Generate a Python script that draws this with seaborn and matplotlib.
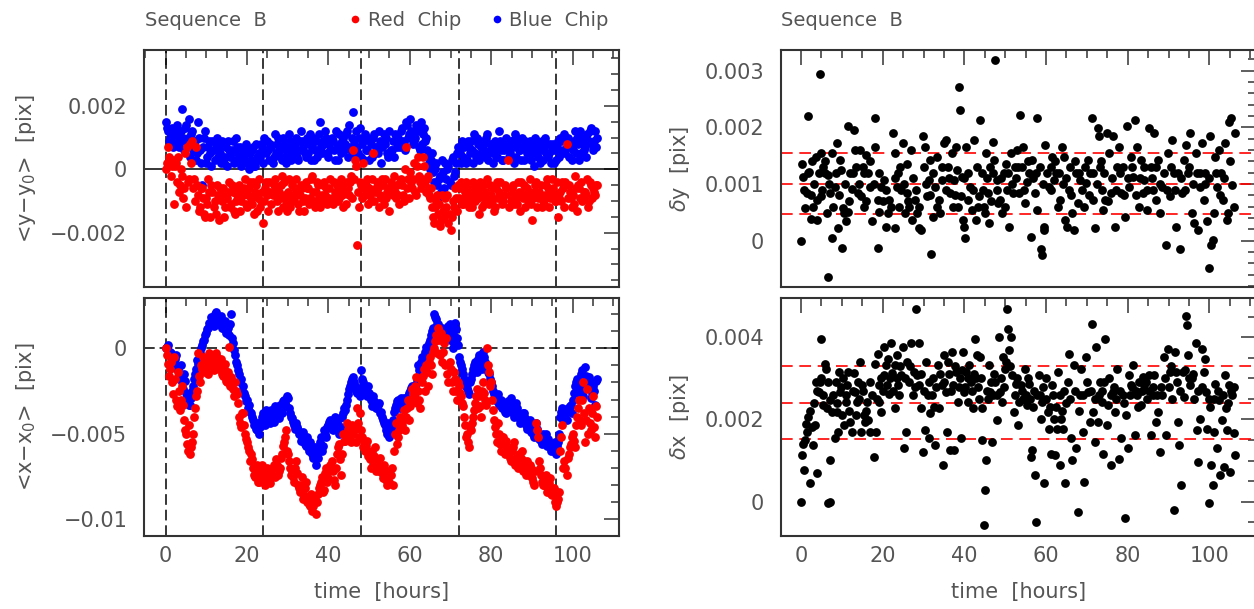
import numpy as np
import pandas as pd
import matplotlib
matplotlib.use("Agg")
import matplotlib.pyplot as plt
import seaborn as sns
from matplotlib.ticker import MultipleLocator, FuncFormatter
from matplotlib.lines import Line2D

sns.set_theme(style="white")
plt.rcParams["font.family"] = ["DejaVu Sans"]
plt.rcParams["mathtext.fontset"] = "dejavusans"

# ---------------- data (values in units of 1e-4 pix) ----------------
UNIT = 1e-4

# exposures on the full hour / half hour
hours_a = [
    0, 0.5, 1, 1.5, 2, 2.5, 3, 3.5, 4, 4.5, 5, 5.5, 6, 6.5, 7, 7.5, 8, 8.5, 9, 9.5,
    10, 10.5, 11, 11.5, 12, 12.5, 13, 13.5, 14, 14.5, 15, 15.5, 16, 16.5, 17, 17.5, 18, 18.5, 19, 19.5,
    20, 20.5, 21, 21.5, 22, 22.5, 23, 23.5, 24, 24.5, 25, 25.5, 26, 26.5, 27, 27.5, 28, 28.5, 29, 29.5,
    30, 30.5, 31, 31.5, 32, 32.5, 33, 33.5, 34, 34.5, 35, 35.5, 36, 36.5, 37, 37.5, 38, 38.5, 39, 39.5,
    40, 40.5, 41, 41.5, 42, 42.5, 43, 43.5, 44, 44.5, 45, 45.5, 46, 46.5, 47, 47.5, 48, 48.5, 49, 49.5,
    50, 50.5, 51, 51.5, 52, 52.5, 53, 53.5, 54, 54.5, 55, 55.5, 56, 56.5, 57, 57.5, 58, 58.5, 59, 59.5,
    60, 60.5, 61, 61.5, 62, 62.5, 63, 63.5, 64, 64.5, 65, 65.5, 66, 66.5, 67, 67.5, 68, 68.5, 69, 69.5,
    70, 70.5, 71, 71.5, 72, 72.5, 73, 73.5, 74, 74.5, 75, 75.5, 76, 76.5, 77, 77.5, 78, 78.5, 79, 79.5,
    80, 80.5, 81, 81.5, 82, 82.5, 83, 83.5, 84, 84.5, 85, 85.5, 86, 86.5, 87, 87.5, 88, 88.5, 89, 89.5,
    90, 90.5, 91, 91.5, 92, 92.5, 93, 93.5, 94, 94.5, 95, 95.5, 96, 96.5, 97, 97.5, 98, 98.5, 99, 99.5,
    100, 100.5, 101, 101.5, 102, 102.5, 103, 103.5, 104, 104.5, 105, 105.5, 106,
]
# exposures in between
hours_b = [
    0.25, 0.75, 1.25, 1.75, 2.25, 2.75, 3.25, 3.75, 4.25, 4.75, 5.25, 5.75, 6.25, 6.75, 7.25, 7.75, 8.25, 8.75, 9.25, 9.75,
    10.25, 10.75, 11.25, 11.75, 12.25, 12.75, 13.25, 13.75, 14.25, 14.75, 15.25, 15.75, 16.25, 16.75, 17.25, 17.75, 18.25, 18.75, 19.25, 19.75,
    20.25, 20.75, 21.25, 21.75, 22.25, 22.75, 23.25, 23.75, 24.25, 24.75, 25.25, 25.75, 26.25, 26.75, 27.25, 27.75, 28.25, 28.75, 29.25, 29.75,
    30.25, 30.75, 31.25, 31.75, 32.25, 32.75, 33.25, 33.75, 34.25, 34.75, 35.25, 35.75, 36.25, 36.75, 37.25, 37.75, 38.25, 38.75, 39.25, 39.75,
    40.25, 40.75, 41.25, 41.75, 42.25, 42.75, 43.25, 43.75, 44.25, 44.75, 45.25, 45.75, 46.25, 46.75, 47.25, 47.75, 48.25, 48.75, 49.25, 49.75,
    50.25, 50.75, 51.25, 51.75, 52.25, 52.75, 53.25, 53.75, 54.25, 54.75, 55.25, 55.75, 56.25, 56.75, 57.25, 57.75, 58.25, 58.75, 59.25, 59.75,
    60.25, 60.75, 61.25, 61.75, 62.25, 62.75, 63.25, 63.75, 64.25, 64.75, 65.25, 65.75, 66.25, 66.75, 67.25, 67.75, 68.25, 68.75, 69.25, 69.75,
    70.25, 70.75, 71.25, 71.75, 72.25, 72.75, 73.25, 73.75, 74.25, 74.75, 75.25, 75.75, 76.25, 76.75, 77.25, 77.75, 78.25, 78.75, 79.25, 79.75,
    80.25, 80.75, 81.25, 81.75, 82.25, 82.75, 83.25, 83.75, 84.25, 84.75, 85.25, 85.75, 86.25, 86.75, 87.25, 87.75, 88.25, 88.75, 89.25, 89.75,
    90.25, 90.75, 91.25, 91.75, 92.25, 92.75, 93.25, 93.75, 94.25, 94.75, 95.25, 95.75, 96.25, 96.75, 97.25, 97.75, 98.25, 98.75, 99.25, 99.75,
    100.25, 100.75, 101.25, 101.75, 102.25, 102.75, 103.25, 103.75, 104.25, 104.75, 105.25, 105.75,
]

red_dy_a = [
    0, 7, 3, 1, -11, 2, 4, -5, -2, -6, -12, -4, 8, 9, -3, 7, -8, -12, -6, -14,
    -9, -3, -15, -7, -10, -5, -16, -8, -6, -12, -9, -4, -11, -7, -14, -8, -5, -10, -8, -3,
    -12, -6, -9, -4, -7, -13, -3, -10, -17, -6, -8, -4, -11, -5, -6, -13, -9, -2, -4, -10,
    -7, -12, -5, -9, -3, -11, -8, -6, -13, -4, -6, -9, -2, -10, -7, -5, -12, -8, -4, -6,
    -9, -3, -11, -7, -5, -9, -3, -12, -7, -4, -8, -2, 6, 3, -24, -12, -5, 2, -8, -3,
    -6, -10, 5, -7, -4, -12, -9, -5, -3, -7, -13, -6, -2, -9, -8, -4, -5, -10, 7, -3,
    -1, -6, 2, -8, 4, -4, -3, 1, -7, -2, -9, -12, -17, -10, -14, -18, -8, -15, -12, -17,
    -19, -10, -6, -13, -9, -4, -11, -7, -6, -12, -8, -4, -10, -6, -14, -7, -5, -9, -3, -11,
    -8, -6, -12, -4, -7, -9, -10, -5, 3, -8, -6, -11, -9, -4, -13, -7, -5, -8, -10, -3,
    -16, -7, -4, -9, -8, -12, -11, -5, -6, -9, -3, -8, -10, -15, -7, -4, -12, 8, -5, -9,
    -8, -2, -13, -6, -4, -9, -7, -3, -10, -5, -6, -8, -5,
]
red_dy_b = [
    2, 4, -2, 3, 1, -4, -7, 0, -9, 5, 7, -3, 2, -6, -10, -5, -13, -6, -9, -15,
    -11, -7, -5, -12, -14, -8, -6, -10, -15, -9, -7, -12, -5, -13, -10, -6, -13, -7, -6, -11,
    -8, -4, -11, -14, -5, -9, -12, -7, -10, -4, -13, -7, -8, -3, -10, -7, -5, -12, -8, -13,
    -3, -8, -10, -6, -7, -13, -5, -10, -9, -6, -11, -3, -7, -12, -4, -9, -10, -5, -8, -11,
    -6, -9, -4, -8, -10, -6, -8, -5, -11, -6, -4, -9, -3, 1, -7, -4, -9, -6, -5, -11,
    -8, -3, -10, -6, -6, -8, -3, -11, -9, -6, -4, -8, -7, -5, -11, -3, -8, 0, -6, -9,
    -4, -3, -7, 1, -2, -6, 4, -5, -3, -8, -6, -15, -12, -8, -11, -16, -13, -9, -8, -14,
    -15, -12, -9, -5, -6, -11, -9, -4, -10, -7, -12, -5, -7, -9, -4, -12, -11, -7, -8, -5,
    -10, -13, -6, -9, -4, -11, -8, -6, -12, -10, -5, -8, -11, -7, -4, -9, -12, -6, -7, -11,
    -9, -5, -12, -7, -5, -10, -8, -3, -12, -7, -6, -10, -4, -9, -10, -6, -4, -9, -7, -12,
    -11, -6, -5, -9, -10, -7, -8, -12, -4, -9, -7, -5,
]

blue_dy_a = [
    15, 12, 10, 13, 8, 12, 11, 9, 19, 6, 14, 10, 4, 12, 8, 3, 15, 6, -5, 10,
    2, 7, 5, 9, 3, 10, 6, 2, 8, 4, 1, 6, 5, 9, 3, 7, 4, 1, 2, 5,
    6, 0, 3, 7, 1, 4, 5, 8, 2, 6, 9, 3, 7, 4, 5, 10, 6, 3, 8, 2,
    4, 9, 7, 5, 10, 3, 6, 9, 8, 4, 5, 11, 7, 3, 9, 6, 15, 5, 8, 10,
    4, 6, 9, 3, 7, 11, 5, 10, 8, 12, 14, 6, 18, 4, 7, 10, 4, 9, 11, 6,
    3, 8, 10, 5, 7, 12, 2, 9, 8, 5, 12, 6, 4, 9, 10, 7, 13, 8, 15, 10,
    16, 11, 9, 14, 12, 6, 8, 13, 10, 4, 0, 5, -4, 2, -9, -2, 3, -6, -3, 1,
    -5, 4, -1, 5, 6, 2, 4, 8, 3, 7, 9, 2, 5, 10, 3, 7, 8, 4, 11, 5,
    6, 2, 9, 4, 12, 6, 3, 8, 7, 5, 9, 2, 4, 8, 6, 10, 3, 7, 5, 9,
    8, 1, 6, 4, 2, 9, 7, 5, 4, 8, 6, 2, 3, 9, 10, 5, 11, 7, 4, 8,
    6, 12, 10, 3, 5, 8, 7, 11, 9, 13, 6, 12, 10,
]
blue_dy_b = [
    13, 9, 11, 7, 10, 14, 7, 12, 10, 13, 8, 16, 11, 6, 9, 5, 10, 2, 7, 12,
    4, 9, 1, 6, 8, 4, 5, 9, 2, 7, 9, 4, 6, 2, 10, 5, 7, 3, 4, 8,
    2, 5, 6, 1, 8, 3, 4, 7, 10, 5, 6, 8, 2, 11, 8, 6, 4, 10, 7, 5,
    11, 3, 6, 8, 4, 9, 12, 7, 5, 10, 8, 3, 10, 6, 4, 11, 7, 9, 12, 5,
    8, 10, 6, 12, 3, 8, 9, 6, 11, 4, 7, 10, 9, 12, 5, 13, 8, 3, 6, 10,
    9, 4, 11, 7, 5, 9, 7, 11, 10, 4, 6, 9, 11, 7, 8, 12, 9, 6, 14, 11,
    12, 8, 10, 13, 7, 15, 11, 9, 6, 2, 3, -1, 0, -5, -3, -7, -1, 2, 0, -4,
    3, -2, 2, 7, 5, 9, 7, 2, 9, 5, 6, 11, 4, 8, 9, 5, 6, 10, 3, 8,
    8, 5, 4, 7, 9, 3, 6, 10, 4, 9, 7, 11, 10, 6, 3, 8, 9, 5, 7, 3,
    5, 10, 9, 7, 6, 3, 10, 8, 5, 2, 8, 6, 7, 4, 9, 6, 5, 10, 7, 3,
    9, 5, 8, 12, 10, 6, 4, 9, 12, 8, 9, 7,
]

red_dx_a = [
    0, -9, -12, -20, -5, -30, -14, -36, -22, -42, -50, -60, -62, -55, -40, -28, -3, -20, -12, -8,
    -6, -15, -4, -10, -8, -5, -12, -6, -16, -9, -20, 1, -17, -24, -20, -27, -40, -46, -38, -50,
    -55, -60, -62, -70, -75, -68, -78, -72, -75, -80, -70, -76, -72, -68, -65, -74, -70, -62, -55, -48,
    -62, -70, -72, -78, -66, -80, -84, -75, -86, -78, -88, -92, -95, -90, -97, -85, -80, -75, -83, -70,
    -76, -68, -72, -80, -62, -56, -74, -50, -54, -44, -48, -55, -50, -46, -35, -52, -48, -58, -60, -54,
    -62, -70, -68, -58, -66, -72, -70, -76, -74, -80, -78, -70, -60, -44, -52, -40, -45, -36, -40, -30,
    -34, -24, -28, -17, -25, -35, -20, -12, -10, -22, -5, -15, 0, 8, 12, -4, -8, 3, 6, -20,
    -12, -25, -18, -30, -22, -28, -34, -45, -50, -58, -48, -40, -32, -24, -28, -40, -20, -30, 0, -14,
    -20, -36, -46, -55, -50, -60, -52, -62, -58, -64, -60, -55, -64, -70, -68, -60, -66, -74, -72, -68,
    -76, -80, -44, -52, -70, -78, -80, -74, -82, -76, -86, -82, -92, -88, -60, -45, -66, -74, -62, -56,
    -50, -58, -40, -30, -45, -20, -55, -24, -35, -48, -28, -52, -40,
]
red_dx_b = [
    -4, -16, -8, -27, -18, -34, -25, -30, -33, -48, -56, -45, -58, -50, -35, -25, -16, -10, -5, -14,
    -11, -3, -7, -13, -3, -11, -9, -15, -12, -19, -14, -22, -20, -28, -25, -32, -44, -38, -45, -53,
    -58, -66, -65, -74, -72, -78, -74, -68, -78, -72, -73, -79, -70, -75, -68, -72, -64, -57, -52, -60,
    -66, -74, -75, -70, -73, -82, -80, -88, -82, -90, -91, -85, -92, -88, -90, -82, -78, -84, -73, -78,
    -72, -66, -77, -70, -58, -65, -62, -54, -50, -47, -52, -45, -48, -55, -44, -38, -52, -55, -57, -63,
    -65, -60, -63, -72, -69, -64, -73, -68, -77, -72, -74, -80, -50, -56, -48, -44, -42, -48, -35, -42,
    -30, -27, -22, -32, -30, -18, -16, -25, -14, -8, -10, -2, 4, -3, 5, 9, -2, -10, -15, -8,
    -20, -14, -25, -20, -26, -32, -40, -52, -55, -46, -44, -36, -28, -35, -34, -25, -26, -33, -10, -22,
    -30, -42, -50, -44, -56, -52, -58, -54, -60, -66, -58, -68, -67, -62, -64, -72, -70, -66, -74, -70,
    -78, -72, -48, -66, -74, -80, -77, -84, -79, -85, -84, -90, -90, -84, -52, -70, -70, -64, -58, -52,
    -54, -45, -35, -42, -30, -38, -42, -50, -44, -38, -46, -34,
]

blue_dx_a = [
    0, 2, -2, -6, -8, -4, -12, -18, -20, -15, -26, -30, -33, -25, -18, -12, -9, -3, 2, 5,
    9, 12, 14, 17, 20, 17, 15, 19, 12, 16, 10, 8, 20, 3, -4, -10, -15, -18, -22, -28,
    -30, -33, -38, -42, -45, -48, -50, -43, -38, -45, -37, -41, -36, -43, -40, -35, -33, -38, -30, -34,
    -29, -38, -41, -45, -44, -48, -50, -52, -54, -57, -58, -55, -62, -60, -68, -64, -55, -60, -48, -52,
    -45, -42, -48, -40, -44, -50, -46, -38, -36, -30, -24, -20, -17, -22, -26, -25, -13, -20, -24, -28,
    -26, -30, -28, -33, -35, -32, -37, -42, -45, -50, -52, -46, -37, -33, -30, -35, -32, -29, -33, -28,
    -25, -22, -28, -21, -10, -15, -5, -8, 1, -3, 5, 10, 20, 17, 14, 10, 12, 7, 5, 13,
    10, 0, 15, 6, -5, -10, -15, -20, -23, -27, -18, -12, -8, -14, -4, -10, -2, -8, -12, -15,
    -20, -25, -28, -31, -33, -30, -35, -37, -31, -34, -36, -40, -32, -38, -44, -40, -38, -45, -46, -42,
    -48, -52, -44, -50, -52, -56, -55, -50, -53, -58, -58, -60, -62, -55, -40, -35, -38, -42, -36, -33,
    -30, -22, -18, -25, -15, -28, -11, -20, -17, -29, -22, -33, -18,
]
blue_dx_b = [
    1, -4, -3, -9, -6, -12, -16, -10, -24, -19, -28, -33, -29, -22, -15, -7, -6, 0, 4, 8,
    11, 15, 18, 13, 21, 14, 18, 12, 15, 9, 12, 14, 6, -1, -8, -13, -20, -25, -26, -31,
    -35, -37, -40, -45, -47, -44, -46, -40, -42, -36, -40, -44, -38, -34, -36, -41, -36, -31, -32, -28,
    -35, -40, -43, -47, -46, -50, -54, -49, -56, -52, -60, -57, -64, -58, -62, -58, -52, -57, -50, -46,
    -43, -47, -42, -45, -47, -41, -40, -35, -33, -27, -22, -18, -20, -25, -23, -28, -18, -22, -26, -22,
    -28, -34, -31, -35, -33, -38, -40, -44, -48, -44, -49, -42, -35, -31, -33, -29, -30, -35, -30, -26,
    -23, -27, -24, -18, -13, -8, -6, -2, -1, 3, 8, 12, 18, 14, 12, 8, 9, 11, 8, 14,
    4, 7, 11, 2, -8, -12, -18, -22, -25, -20, -15, -10, -11, -6, -7, -12, -5, -10, -14, -18,
    -22, -27, -30, -27, -32, -35, -33, -38, -33, -29, -38, -34, -35, -41, -42, -38, -41, -47, -44, -49,
    -50, -46, -47, -53, -54, -50, -52, -57, -56, -60, -59, -55, -57, -50, -37, -42, -40, -35, -34, -38,
    -26, -20, -21, -27, -13, -24, -16, -22, -20, -26, -25, -19,
]

# right-hand panels: individual exposures
dy_hours = [
    0, 0.3, 0.5, 1.0, 1.4, 1.7, 1.9, 2.4, 2.4, 2.9,
    3.6, 3.8, 4.0, 4.6, 4.8, 4.8, 5.3, 5.8, 6.3, 6.5,
    6.7, 7.2, 7.7, 7.7, 8.2, 8.7, 9.1, 9.6, 9.8, 10.1,
    10.4, 10.6, 11.1, 11.5, 11.5, 12.0, 12.5, 13.0, 13.3, 13.5,
    13.9, 14.4, 14.7, 15.4, 15.4, 15.9, 16.3, 16.8, 17.3, 18.1,
    18.1, 18.75, 18.75, 19.2, 19.7, 20.2, 20.7, 21.2, 21.6, 22.6,
    23.1, 23.1, 23.6, 23.8, 24.0, 24.5, 25.0, 25.5, 26.0, 26.0,
    26.4, 26.9, 27.1, 27.9, 28.4, 28.8, 29.3, 29.8, 30.0, 30.3,
    30.8, 31.25, 31.7, 31.9, 32.2, 32.7, 33.2, 33.7, 34.1, 34.6,
    35.1, 35.6, 36.1, 36.5, 37.0, 37.2, 37.5, 38.0, 38.3, 38.7,
    38.9, 39.2, 39.4, 39.6, 39.9, 40.2, 40.4, 40.9, 41.3, 41.8,
    42.3, 42.8, 43.1, 43.5, 43.75, 44.2, 44.7, 45.0, 45.2, 45.7,
    46.0, 46.3, 46.9, 47.3, 47.6, 47.9, 48.3, 48.8, 49.2, 49.8,
    50.2, 50.5, 51.0, 51.4, 51.9, 52.4, 52.9, 53.4, 53.7, 54.0,
    54.3, 54.8, 55.3, 55.8, 56.25, 56.5, 57.2, 57.7, 57.9, 58.7,
    59.1, 59.4, 59.6, 59.8, 60.6, 61.1, 61.5, 62.0, 62.5, 63.0,
    63.5, 63.9, 64.4, 64.7, 65.2, 65.6, 65.9, 66.3, 66.8, 67.3,
    67.8, 68.3, 69.2, 69.7, 70.2, 70.7, 71.2, 71.6, 72.1, 72.6,
    72.9, 73.1, 73.6, 74.0, 74.5, 75.0, 75.5, 76.0, 76.4, 76.9,
    77.4, 77.9, 78.4, 78.8, 79.3, 79.8, 80.3, 80.8, 81.25, 81.7,
    82.2, 82.7, 83.2, 83.7, 84.1, 84.6, 85.1, 85.6, 86.1, 86.5,
    87.0, 87.5, 88.0, 88.5, 89.4, 89.9, 90.4, 90.9, 91.3, 91.8,
    92.8, 93.3, 93.75, 94.2, 94.7, 95.2, 95.7, 96.2, 96.6, 97.1,
    97.6, 98.1, 98.6, 99.0, 99.5, 100.0, 100.2, 100.5, 100.8, 101.2,
    101.4, 101.9, 102.4, 102.9, 103.4, 103.8, 104.3, 104.6, 104.8, 105.3,
    105.6, 106.0, 106.25,
    0.8, 1.6, 2.6, 3.3, 4.3, 5.1, 5.9, 6.9, 7.9, 8.5,
    9.3, 10.8, 11.8, 12.8, 14.1, 15.1, 16.0, 17.0, 17.8, 19.0,
    20.0, 20.9, 22.0, 22.9, 24.2, 25.2, 26.2, 27.4, 28.1, 29.0,
    30.5, 31.5, 32.4, 33.4, 34.4, 35.4, 36.3, 37.7, 38.5, 40.0,
    41.0, 42.0, 43.3, 44.5, 45.5, 46.5, 47.1, 48.1, 49.0, 50.0,
    50.8, 51.7, 52.6, 53.2, 54.5, 55.5, 56.8, 57.5, 58.4, 59.3,
    60.2, 61.3, 62.2, 63.2, 64.1, 65.0, 66.1, 67.0, 68.0, 68.8,
    69.5, 70.5, 71.4, 72.4, 73.4, 74.3, 75.2, 76.2, 77.1, 78.1,
    79.0, 80.0, 81.0, 82.0, 82.9, 83.9, 84.8, 85.9, 86.8, 87.8,
    88.8, 89.6, 90.6, 91.6, 92.3, 93.1, 94.0, 94.9, 95.9, 96.9,
    97.8, 98.8, 99.8, 101.6, 102.6, 103.6, 105.0,
]
dy_values = [
    0, 13.6, 11.3, 5.7, 8.4, 22, 12.2, 8, 3.9, 6,
    14.8, 7.2, 3.6, 29.4, 15.4, 7.8, 13, 11.9, 4.8, -6.4,
    11.6, 8.4, 0.4, 15.4, 9.5, 17.2, 2.2, 14.2, 12.5, -1.2,
    5.7, 4.8, 3.4, 20.2, 5.1, 11.9, 9.2, 19.5, 16, 13,
    8.4, 16, 7.8, 11.9, 6, 15.1, 11.9, 9.5, 3.4, 21.6,
    16.6, -1.2, 7.2, 5.1, 9.5, 10.7, 2.5, 4.8, 7.2, 19,
    15.4, 2.2, 9.5, 11.9, 6, 8.9, 17.2, 4.8, 13.6, 8.4,
    6, 16, 3.6, 7.2, 4.8, 2.2, 1.9, 18.4, 13, 16.6,
    7.8, 10.7, 14.2, -2.4, 4.2, 9.5, 14.8, 7.2, 4.8, 10.7,
    17.2, 17.8, 13, 8.4, 15.4, 6, 10.7, 16.6, 12.5, 27.2,
    23, 7.8, 11.3, 3.6, 2.5, 0.4, 16.6, 7.2, 9.5, 5.4,
    17.8, 3.6, 13, 7.8, 21.3, 11.9, 6, 4.8, 15.4, 8.4,
    3.1, 13, 17.5, 14.2, 31.8, 10.7, 6.6, 7.2, 4.8, 11.9,
    13.6, 8.9, 2.5, 15.4, 8.4, 13, 16, 8.4, 22.2, 13,
    16.6, 6.6, 10.4, 11.9, 0.7, 14.2, 8.4, 21.6, 5.4, -1.4,
    -2.5, 1.9, 2.5, 16.9, 9.5, 13, 14.8, 10.7, 11.9, 6,
    7.2, 16.6, 14.8, 3.6, 2.5, 8.9, 13, 4.8, 1.9, 11.9,
    6.6, 10.7, 6, 10.1, 14.2, 11.9, 21.6, 7.2, 2.2, 19.8,
    18.4, 13, 8.9, 5.4, 7.2, 19, 15.4, 8.4, 18.4, 2.5,
    13, 16.6, 8.4, 13, 4.2, 20.2, 9.5, 14.8, 11.3, 21.3,
    16.6, 6, 14.2, 8.4, 10.7, 5.4, 19.8, 13, 8.9, 19,
    7.2, 14.2, 4.8, 9.5, -0.8, 15.4, 7.8, 17.8, 11.9, 2.5,
    -1.4, 8.4, 14.2, 16.9, 11.9, 19, 4.8, 3.1, 15.4, 1.9,
    9.5, 17.2, 7.2, 11.9, 3.4, -4.9, 18.5, -0.8, 0.1, 4.8,
    14.8, 9.5, 16, 11.9, 7.2, 17.2, 3.6, 4.8, 21, 21.6,
    9.8, 6, 19,
    9, 12, 14, 10, 12, 9, 14, 10, 6, 12,
    8, 10, 7, 12, 10, 13, 7, 14, 10, 12,
    7, 9, 6, 11, 13, 10, 7, 11, 9, 6,
    10, 8, 12, 6, 13, 9, 11, 8, 6, 11,
    12, 9, 6, 9, 11, 7, 12, 9, 11, 6,
    12, 10, 11, 13, 9, 14, 11, 12, 13, 10,
    12, 9, 14, 12, 10, 11, 8, 14, 12, 9,
    13, 8, 12, 10, 14, 12, 7, 11, 9, 12,
    8, 11, 13, 8, 11, 13, 9, 11, 13, 10,
    12, 9, 13, 9, 12, 11, 9, 13, 10, 12,
    12, 10, 11, 12, 8, 11, 14,
]

dx_hours = [
    0, 0.3, 0.8, 1.0, 1.4, 1.7, 2.1, 2.6, 2.9, 3.4,
    3.7, 4.0, 4.3, 4.6, 4.8, 5.0, 5.3, 5.8, 6.0, 6.25,
    6.5, 7.0, 7.2, 7.2, 7.7, 8.2, 8.5, 8.7, 9.1, 9.4,
    9.6, 10.1, 10.4, 10.6, 11.1, 11.3, 11.5, 12.0, 12.5, 13.0,
    13.3, 13.7, 13.9, 14.4, 14.6, 14.9, 15.4, 15.7, 16.2, 16.5,
    16.8, 17.3, 17.8, 18.1, 18.3, 18.75, 19.0, 19.2, 19.7, 20.2,
    20.4, 20.7, 21.0, 21.3, 21.6, 22.1, 22.3, 22.9, 23.1, 23.6,
    23.8, 24.0, 24.5, 25.0, 25.2, 25.8, 26.0, 26.4, 26.9, 27.4,
    27.7, 28.1, 28.4, 28.8, 29.0, 29.3, 29.8, 30.3, 30.6, 31.0,
    31.25, 31.7, 32.2, 32.5, 32.9, 33.5, 33.8, 34.4, 34.8, 35.1,
    35.4, 35.8, 36.1, 36.5, 37.0, 37.3, 37.5, 38.0, 38.5, 38.9,
    39.2, 39.6, 39.9, 40.4, 40.9, 41.2, 41.5, 42.1, 42.5, 42.8,
    43.1, 43.5, 43.75, 44.2, 44.4, 44.8, 45.0, 45.2, 45.7, 46.0,
    46.3, 46.8, 47.1, 47.6, 48.1, 48.4, 48.8, 49.2, 49.5, 50.0,
    50.5, 50.8, 51.0, 51.4, 51.7, 52.1, 52.7, 53.1, 53.4, 53.8,
    54.3, 54.8, 55.3, 55.8, 56.25, 56.5, 56.9, 57.2, 57.5, 57.9,
    58.2, 58.7, 59.1, 59.6, 60.1, 60.4, 60.8, 61.1, 61.5, 62.0,
    62.3, 62.7, 63.0, 63.5, 63.7, 64.2, 64.6, 64.9, 65.4, 65.7,
    66.2, 66.3, 66.8, 67.3, 67.8, 68.3, 68.5, 69.0, 69.4, 69.7,
    70.2, 70.7, 71.2, 71.6, 72.1, 72.3, 72.6, 73.1, 73.6, 74.0,
    74.5, 74.8, 75.2, 75.5, 76.0, 76.4, 76.9, 77.4, 77.9, 78.4,
    78.8, 79.3, 79.6, 80.0, 80.3, 80.8, 81.25, 81.7, 82.2, 82.7,
    83.2, 83.7, 84.1, 84.6, 85.1, 85.6, 86.1, 86.5, 87.0, 87.5,
    88.0, 88.5, 88.9, 89.4, 89.9, 90.4, 90.9, 91.3, 91.5, 91.8,
    92.3, 92.6, 93.1, 93.5, 93.75, 94.2, 94.5, 94.8, 95.2, 95.7,
    96.2, 96.6, 96.9, 97.1, 97.6, 98.1, 98.6, 98.8, 99.2, 99.5,
    100.0, 100.2, 100.5, 100.8, 101.2, 101.4, 101.9, 102.4, 102.7, 103.1,
    103.5, 103.8, 104.1, 104.4, 104.8, 105.1, 105.6, 106.0, 106.25,
    0.6, 1.2, 2.3, 3.1, 4.0, 5.5, 6.7, 7.9, 8.9, 9.9,
    10.9, 11.8, 12.7, 13.5, 14.2, 15.1, 16.0, 17.0, 18.5, 19.5,
    20.0, 21.8, 22.6, 23.4, 24.3, 25.5, 26.7, 27.9, 29.5, 30.0,
    31.4, 32.0, 33.0, 34.0, 35.0, 36.3, 36.8, 37.8, 38.7, 39.5,
    40.2, 41.0, 41.8, 42.3, 43.3, 44.0, 45.5, 46.5, 47.3, 47.9,
    49.0, 49.8, 50.3, 51.2, 52.4, 53.0, 54.0, 55.0, 55.5, 56.0,
    57.0, 58.5, 59.3, 60.0, 61.0, 61.8, 62.5, 63.3, 64.0, 64.5,
    65.9, 67.0, 68.0, 69.0, 70.0, 70.9, 71.9, 72.9, 73.8, 74.3,
    75.8, 76.7, 77.1, 78.1, 79.0, 80.5, 81.0, 82.0, 82.5, 83.5,
    84.4, 85.3, 86.3, 87.2, 88.2, 89.1, 90.0, 90.6, 92.0, 92.9,
    94.0, 95.0, 96.0, 97.3, 98.3, 99.8, 101.0, 102.2, 103.3, 104.6,
    105.4, 105.9,
]
dx_values = [
    0, 11.3, 7.7, 15, 17, 20.6, 4.5, 18.2, 13.8, 18.6,
    29.1, 6.9, 26.7, 29.1, 39.5, 30, 23.5, 33.6, 32.4, 22.7,
    -0.4, 10.1, 0, 24.7, 21.9, 15.4, 29.1, 21.9, 17, 31.6,
    26.7, 21.1, 30, 18.6, 24.3, 28.3, 31.6, 19.4, 17, 31.2,
    26.7, 24.3, 29.1, 34, 17, 28.3, 21.1, 19.4, 24.3, 19.8,
    17, 25.9, 10.9, 33.6, 17, 36, 28.3, 24.3, 21.9, 30.8,
    37.7, 33.2, 28.3, 34.8, 26.3, 38.5, 31.2, 22.7, 33.2, 35.6,
    28.3, 25.9, 30.8, 37.7, 13, 17, 34, 29.1, 38.5, 25.9,
    31.6, 47, 30.8, 38.5, 28.3, 22.7, 12.1, 17.4, 34, 25.9,
    15.4, 21.5, 30, 23.1, 13.8, 33.2, 22.7, 28.3, 8.9, 35.6,
    26.7, 17, 34, 12.6, 36.4, 28.3, 12.6, 31.6, 24.3, 30,
    15.4, 36.4, 26.7, 31.6, 24.3, 33.2, 29.1, 22.7, 39.7, 30,
    35.6, 25.1, 35.2, 15, 22.7, -5.7, 2.8, 10.1, 25.1, 33.2,
    26.7, 14.6, 25.9, 29.1, 19.8, 40.1, 26.7, 24.3, 35.2, 32.4,
    47, 42.1, 36.8, 40.1, 30.8, 21.9, 28.7, 18.6, 24.3, 28.3,
    25.1, 32.4, 23.5, 28.7, 10.9, 12.6, 23.1, 6.5, -4.9, 25.9,
    30.8, 20.2, 24.3, 4.5, 30, 21.9, 17.8, 11.7, 28.3, 20.2,
    11.3, 17.8, 31.6, 8.9, 20.2, 17.8, 4.5, 23.9, 29.1, 36,
    15.4, 10.1, 33.2, 13, -2.4, 25.9, 32.4, 17, 4.9, 35.2,
    26.7, 19.4, 43.3, 21.9, 14.6, 37.7, 19.4, 29.1, 24.3, 11.7,
    39.7, 18.6, 23.5, 30, 8.9, 26.7, 21.9, 32.4, 10.5, 15.4,
    25.9, -4, 21.1, 13, 30.8, 28.3, 33.2, 16.2, 25.9, 29.1,
    23.5, 30.4, 28.3, 25.1, 30.8, 16.2, 25.9, 30.8, 19.4, 21.9,
    12.1, 25.9, 35.2, 16.2, 37.2, 31.6, 25.1, -2, 36.4, 31.6,
    19.4, 13.8, 4, 31.6, 25.5, 45.3, 42.9, 35.6, 28.3, 30,
    25.1, 38.5, 17.4, 9.7, 20.2, 37.2, 31.6, 34.8, 26.7, 17.8,
    -0.4, 23.1, 8.9, 4, 17, 28.7, 13, 24.7, 6.5, 19.8,
    8.5, 30.8, 22.7, 17.4, 28.3, 7.3, 25.9, 16.6, 11.3,
    14, 19, 22, 24, 27, 26, 29, 26, 24, 28,
    26, 22, 27, 21, 25, 27, 22, 29, 25, 30,
    27, 30, 27, 30, 33, 30, 33, 28, 31, 27,
    29, 26, 28, 31, 29, 31, 27, 33, 28, 32,
    28, 30, 27, 31, 28, 30, 27, 29, 31, 26,
    30, 28, 34, 33, 26, 30, 27, 26, 30, 25,
    27, 26, 28, 25, 23, 26, 23, 26, 22, 27,
    25, 27, 22, 26, 29, 27, 25, 26, 27, 29,
    26, 28, 25, 27, 24, 26, 28, 27, 23, 27,
    29, 27, 28, 26, 28, 30, 28, 33, 29, 27,
    32, 30, 31, 27, 28, 25, 25, 27, 26, 24,
    27, 28,
]

# reference levels drawn as red dashed lines (pix)
dy_levels = [0.00047, 0.00100, 0.00154]
dx_levels = [0.00152, 0.00241, 0.00331]
day_marks = [0, 24, 48, 72, 96]

assert len(hours_a) == len(red_dy_a) == len(blue_dy_a) == len(red_dx_a) == len(blue_dx_a)
assert len(hours_b) == len(red_dy_b) == len(blue_dy_b) == len(red_dx_b) == len(blue_dx_b)
assert len(dy_hours) == len(dy_values)
assert len(dx_hours) == len(dx_values)

hours_left = np.array(hours_a + hours_b)
red_dy = np.array(red_dy_a + red_dy_b) * UNIT
blue_dy = np.array(blue_dy_a + blue_dy_b) * UNIT
red_dx = np.array(red_dx_a + red_dx_b) * UNIT
blue_dx = np.array(blue_dx_a + blue_dx_b) * UNIT

# ---------------- figure ----------------
W, H = 1254, 609
fig = plt.figure(figsize=(W / 100, H / 100), dpi=100)


def rect(x0, y0, x1, y1):
    return [x0 / W, 1 - y1 / H, (x1 - x0) / W, (y1 - y0) / H]


ax_tl = fig.add_axes(rect(144, 50, 619, 287))
ax_bl = fig.add_axes(rect(144, 298, 619, 536))
ax_tr = fig.add_axes(rect(781, 50, 1256, 287))
ax_br = fig.add_axes(rect(781, 298, 1256, 536))

TXT = "#555555"
FR = "#333333"
RED = "#ff0000"
BLUE = "#0000ff"
S_LEFT = 40
S_RIGHT = 40


def yfmt(v, pos):
    if abs(v) < 1e-12:
        return "0"
    s = f"{v:.4f}".rstrip("0")
    return s.replace("-", "\u2212")


def style(ax, ymaj, ymin, xlabels):
    ax.xaxis.set_major_locator(MultipleLocator(20))
    ax.xaxis.set_minor_locator(MultipleLocator(5))
    ax.yaxis.set_major_locator(MultipleLocator(ymaj))
    ax.yaxis.set_minor_locator(MultipleLocator(ymin))
    ax.yaxis.set_major_formatter(FuncFormatter(yfmt))
    ax.tick_params(which="both", direction="in", top=True, right=True,
                   color=FR, labelcolor=TXT, labelsize=15, width=1.1)
    ax.tick_params(which="major", length=11)
    ax.tick_params(which="minor", length=5.5)
    ax.tick_params(axis="y", which="major", pad=12)
    ax.tick_params(axis="x", which="major", pad=7)
    for s in ax.spines.values():
        s.set_color(FR)
        s.set_linewidth(1.5)
    ax.set_facecolor("white")
    ax.grid(False)
    if not xlabels:
        ax.tick_params(labelbottom=False)
    else:
        ax.set_xlabel("time  [hours]", fontsize=15, color=TXT, labelpad=12)


dash = (0, (7, 3.2))

# top-left: <y - y0>
for v in day_marks:
    ax_tl.axvline(v, color="black", lw=1.1, ls=dash, zorder=1)
ax_tl.axhline(0, color="black", lw=1.1, zorder=1)
sns.scatterplot(x=hours_left, y=blue_dy, ax=ax_tl, color=BLUE,
                s=S_LEFT, linewidth=0, legend=False, zorder=3)
sns.scatterplot(x=hours_left, y=red_dy, ax=ax_tl, color=RED,
                s=S_LEFT, linewidth=0, legend=False, zorder=4)
ax_tl.set_xlim(-5.33, 111.4)
ax_tl.set_ylim(-0.00371, 0.00376)
style(ax_tl, 0.002, 0.0005, False)
ax_tl.set_ylabel(r"<y$-$y$_0$>  [pix]", fontsize=15, color=TXT, labelpad=9)

# bottom-left: <x - x0>
for v in day_marks:
    ax_bl.axvline(v, color="black", lw=1.1, ls=dash, zorder=1)
ax_bl.axhline(0, color="black", lw=1.1, ls=dash, zorder=1)
sns.scatterplot(x=hours_left, y=blue_dx, ax=ax_bl, color=BLUE,
                s=S_LEFT, linewidth=0, legend=False, zorder=3)
sns.scatterplot(x=hours_left, y=red_dx, ax=ax_bl, color=RED,
                s=S_LEFT, linewidth=0, legend=False, zorder=4)
ax_bl.set_xlim(-5.33, 111.4)
ax_bl.set_ylim(-0.01098, 0.00294)
style(ax_bl, 0.005, 0.001, True)
ax_bl.set_ylabel(r"<x$-$x$_0$>  [pix]", fontsize=15, color=TXT, labelpad=9)

# top-right: delta y
for v in dy_levels:
    ax_tr.axhline(v, color=RED, lw=1.2, ls=(0, (7, 4)), zorder=1)
sns.scatterplot(x=dy_hours, y=np.array(dy_values) * UNIT, ax=ax_tr, color="black",
                s=S_RIGHT, linewidth=0, legend=False, zorder=3)
ax_tr.set_xlim(-4.9, 111.4)
ax_tr.set_ylim(-0.000817, 0.003365)
style(ax_tr, 0.001, 0.0002, False)
ax_tr.set_ylabel(r"$\delta$y  [pix]", fontsize=15, color=TXT, labelpad=9)

# bottom-right: delta x
for v in dx_levels:
    ax_br.axhline(v, color=RED, lw=1.2, ls=(0, (7, 4)), zorder=1)
sns.scatterplot(x=dx_hours, y=np.array(dx_values) * UNIT, ax=ax_br, color="black",
                s=S_RIGHT, linewidth=0, legend=False, zorder=3)
ax_br.set_xlim(-4.9, 111.4)
ax_br.set_ylim(-0.000835, 0.004956)
style(ax_br, 0.002, 0.0005, True)
ax_br.set_ylabel(r"$\delta$x  [pix]", fontsize=15, color=TXT, labelpad=9)

# titles and legend
fig.text(145 / W, 1 - 20 / H, "Sequence  B", fontsize=14, color=TXT, ha="left", va="center")
fig.text(781 / W, 1 - 20 / H, "Sequence  B", fontsize=14, color=TXT, ha="left", va="center")
handles = [
    Line2D([], [], ls="none", marker="o", color=RED, mec="none", markersize=5.5),
    Line2D([], [], ls="none", marker="o", color=BLUE, mec="none", markersize=5.5),
]
fig.legend(handles, ["Red  Chip", "Blue  Chip"], loc="center left",
           bbox_to_anchor=(350 / W, 1 - 20 / H), ncol=2, frameon=False,
           fontsize=14, labelcolor=TXT, handlelength=0.5, handletextpad=0.4,
           columnspacing=1.6, borderpad=0, borderaxespad=0)

fig.savefig("out.png", dpi=100, facecolor="white")
